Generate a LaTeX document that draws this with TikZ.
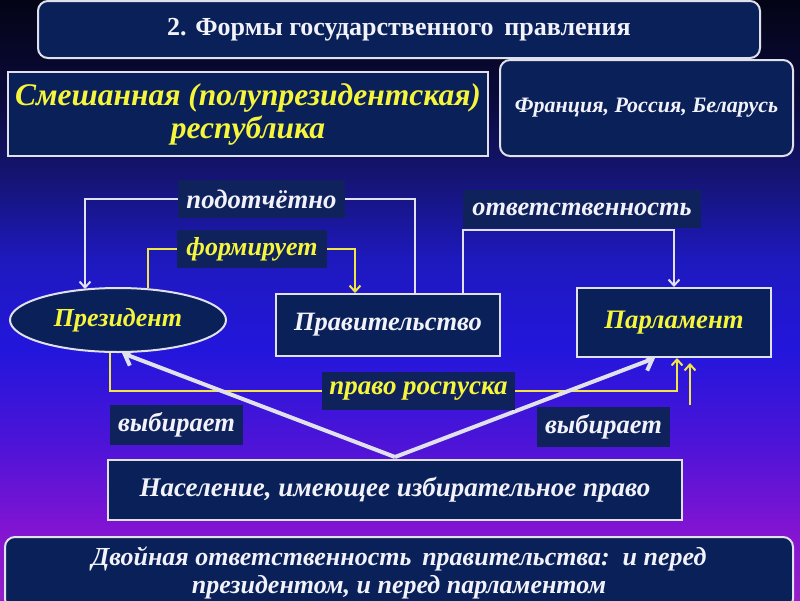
\documentclass[tikz,border=0pt]{standalone}
\usepackage{fontspec}
\setmainfont{Liberation Serif}
\usetikzlibrary{arrows.meta,shapes.geometric}
\definecolor{s1}{RGB}{4,4,22}
\definecolor{s2}{RGB}{10,10,60}
\definecolor{s3}{RGB}{20,20,110}
\definecolor{s4}{RGB}{30,25,190}
\definecolor{s5}{RGB}{35,22,220}
\definecolor{s6}{RGB}{80,20,215}
\definecolor{s7}{RGB}{130,20,210}
\definecolor{s8}{RGB}{150,30,200}
\definecolor{navy}{RGB}{10,32,88}
\definecolor{labnavy}{RGB}{16,34,92}
\definecolor{ytext}{RGB}{245,245,60}
\definecolor{yline}{RGB}{240,230,70}
\definecolor{wtext}{RGB}{242,242,250}
\definecolor{bord}{RGB}{225,225,235}
\pgfdeclareverticalshading{bgshade}{100bp}{color(0bp)=(s8); color(25bp)=(s8); color(30.8bp)=(s7); color(37.5bp)=(s6); color(45.8bp)=(s5); color(53.3bp)=(s4); color(60.8bp)=(s3); color(66.7bp)=(s2); color(75bp)=(s1); color(100bp)=(s1)}
\pgfdeclarelayer{bg}
\pgfdeclarelayer{lines}
\pgfsetlayers{bg,lines,main}
\tikzset{
  box/.style={draw=bord, line width=2pt, fill=navy, inner sep=0pt, align=center},
  rbox/.style={box, rounded corners=10pt},
  lab/.style={fill=labnavy, inner sep=0pt, align=center},
  wt/.style={text=wtext},
  yt/.style={text=ytext},
  bi/.style={font=\fontsize{#1}{#1}\selectfont\bfseries\itshape},
  wline/.style={draw=bord, line width=2pt},
  yline/.style={draw=yline, line width=2pt},
  barb/.style={-{Straight Barb[length=6pt,width=11pt,line width=2pt]}},
  bigbarb/.style={-{Straight Barb[length=9pt,width=18pt,line width=4pt]}},
}
\begin{document}
\begin{tikzpicture}[x=1pt,y=-1pt]
\useasboundingbox (0,0) rectangle (800,600);
\begin{pgfonlayer}{bg}
\shade[shading=bgshade] (0,0) rectangle (800,600);
\end{pgfonlayer}
\clip (0,0) rectangle (800,600);
% top boxes
\node[rbox, minimum width=722pt, minimum height=57pt, text=wtext, font=\fontsize{26}{28}\selectfont\bfseries] (title) at (399,29.5) {2. Формы государственного\, правления};
\node[box, minimum width=480pt, minimum height=84pt, yt, font=\fontsize{31.5}{33}\selectfont\bfseries\itshape] (mixed) at (248,114) {Смешанная (полупрезидентская)\\республика};
\node[rbox, minimum width=293pt, minimum height=96pt, wt, bi=22] (countries) at (646.5,108) {Франция, Россия, Беларусь};
% main nodes
\node[box, ellipse, minimum width=216pt, minimum height=64pt, yt, bi=26] (pres) at (118,320) {Президент};
\node[box, minimum width=224pt, minimum height=62pt, wt, bi=26.5] (gov) at (388,325) {Правительство};
\node[box, minimum width=194pt, minimum height=69pt, yt, bi=26.7] (parl) at (674,322.5) {Парламент};
\node[box, minimum width=574pt, minimum height=60pt, wt, bi=27] (nas) at (395,490) {Население, имеющее избирательное право};
\node[rbox, minimum width=788pt, minimum height=72pt, wt, font=\fontsize{26}{28}\selectfont\bfseries\itshape] (dual) at (399,573) {Двойная ответственность\, правительства:\, и перед\\президентом, и перед парламентом};
% labels
\node[lab, minimum width=167pt, minimum height=38pt, wt, bi=26.7] (podot) at (261.5,199) {подотчётно};
\node[lab, minimum width=150pt, minimum height=38pt, yt, bi=26] (form) at (252,249) {формирует};
\node[lab, minimum width=238pt, minimum height=38pt, wt, bi=26.4] (otv) at (582,209) {ответственность};
\node[lab, minimum width=193pt, minimum height=38pt, yt, bi=27] (rosp) at (418.5,391) {право роспуска};
\node[lab, minimum width=133pt, minimum height=40pt, wt, bi=26.5] (vyb1) at (176.5,425) {выбирает};
\node[lab, minimum width=133pt, minimum height=40pt, wt, bi=26.5] (vyb2) at (603.5,427) {выбирает};
\coordinate (yfree) at (690,405);
% connectors
\begin{pgfonlayer}{lines}
\draw[wline, barb] ([xshift=27pt]gov.north) |- (podot.center) -| ([xshift=-33pt,yshift=-2pt]pres.north);
\draw[yline, barb] ([xshift=30pt,yshift=-1pt]pres.north) |- (form.center) -| ([xshift=-33pt]gov.north);
\draw[wline, barb] ([xshift=75pt]gov.north) |- ([yshift=-2pt]otv.south) -| (parl.north);
\draw[yline, barb] ([xshift=-8pt]pres.south) |- (rosp.center) -| ([xshift=3pt]parl.south);
\draw[yline, barb] (yfree) -- ([xshift=16pt,yshift=-5pt]parl.south);
\draw[wline, line width=4pt, bigbarb] ([yshift=2pt]nas.north) -- ([xshift=4pt]pres.south);
\draw[wline, line width=4pt, bigbarb] ([yshift=2pt]nas.north) -- ([xshift=-19pt]parl.south);
\end{pgfonlayer}
\end{tikzpicture}
\end{document}
